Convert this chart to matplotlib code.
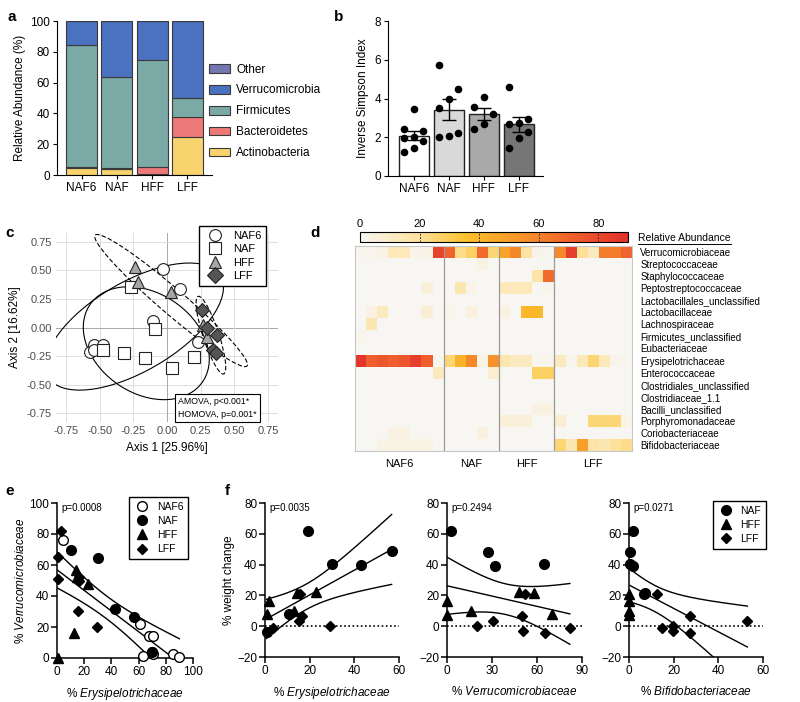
import numpy as np
import matplotlib
matplotlib.use("Agg")
import matplotlib.pyplot as plt
from matplotlib.patches import Ellipse, Patch
from matplotlib.lines import Line2D
from matplotlib.colors import LinearSegmentedColormap

plt.rcParams['font.family'] = ['Liberation Sans', 'DejaVu Sans']
plt.rcParams['mathtext.fontset'] = 'custom'
plt.rcParams['mathtext.it'] = 'Liberation Sans:italic'
plt.rcParams['mathtext.rm'] = 'Liberation Sans'

# ---------------- data ----------------
groups = ['NAF6', 'NAF', 'HFF', 'LFF']

# a: phylum relative abundance (%)
phyla = ['Actinobacteria', 'Bacteroidetes', 'Firmicutes', 'Verrucomicrobia', 'Other']
actino = [4.5, 4.0, 0.5, 24.5]
bacter = [1.0, 0.5, 4.5, 13.0]
firmic = [79.0, 59.0, 70.0, 12.5]
verruc = [15.3, 36.4, 24.9, 49.9]
other = [0.2, 0.1, 0.1, 0.1]
phyla_colors = ['#f9d36e', '#ec7878', '#7aa9a6', '#4a72bf', '#7476b0']

# b: inverse simpson index per animal
simpson_naf6 = [3.45, 2.45, 2.3, 2.0, 1.95, 1.8, 1.45, 1.25]
simpson_naf = [5.75, 4.5, 3.95, 3.5, 2.2, 2.05, 2.0]
simpson_hff = [4.1, 3.55, 3.2, 2.7, 2.45]
simpson_lff = [4.6, 2.95, 2.75, 2.7, 2.25, 1.95, 1.45]

# c: PCoA coordinates
pc_naf6_x = [-0.575, -0.54, -0.543, -0.474, -0.106, -0.027, 0.099, 0.232]
pc_naf6_y = [-0.217, -0.157, -0.197, -0.149, 0.057, 0.511, 0.34, -0.123]
pc_naf_x = [-0.264, -0.086, -0.474, -0.323, -0.165, 0.035, 0.2]
pc_naf_y = [0.351, -0.014, -0.2, -0.22, -0.269, -0.354, -0.254]
pc_hff_x = [-0.235, -0.215, 0.032, 0.27, 0.30]
pc_hff_y = [0.529, 0.40, 0.314, 0.02, -0.086]
pc_lff_x = [0.257, 0.294, 0.375, 0.343, 0.363]
pc_lff_y = [0.151, 0.0, -0.066, -0.2, -0.22]

# d: family heatmap (columns: 8 NAF6, 5 NAF, 5 HFF, 7 LFF)
families = ['Verrucomicrobiaceae', 'Streptococcaceae', 'Staphylococcaceae',
            'Peptostreptococcaceae', 'Lactobacillales_unclassified', 'Lactobacillaceae',
            'Lachnospiraceae', 'Firmicutes_unclassified', 'Eubacteriaceae',
            'Erysipelotrichaceae', 'Enterococcaceae', 'Clostridiales_unclassified',
            'Clostridiaceae_1.1', 'Bacilli_unclassified', 'Porphyromonadaceae',
            'Coriobacteriaceae', 'Bifidobacteriaceae']
group_sizes = [8, 5, 5, 7]
abundance = [
    [1, 1, 3, 14, 14, 2, 3, 82, 70, 22, 28, 68, 25, 48, 58, 18, 2, 1, 58, 85, 20, 12, 62, 62, 70],
    [0, 0, 0, 0, 0, 0, 0, 0, 0, 0, 0, 4, 0, 0, 0, 0, 0, 0, 0, 0, 0, 0, 0, 0, 0],
    [0, 0, 0, 0, 0, 0, 0, 0, 0, 0, 0, 0, 0, 0, 0, 0, 18, 68, 0, 0, 0, 0, 0, 0, 0],
    [0, 0, 0, 0, 0, 0, 6, 0, 0, 16, 2, 0, 0, 14, 14, 14, 0, 2, 0, 0, 0, 0, 0, 0, 0],
    [0, 0, 0, 0, 0, 0, 0, 0, 0, 0, 0, 0, 0, 0, 0, 0, 0, 0, 0, 0, 0, 0, 0, 0, 0],
    [0, 4, 12, 0, 0, 0, 7, 0, 2, 0, 5, 0, 0, 4, 0, 40, 40, 0, 0, 0, 0, 0, 0, 0, 0],
    [0, 15, 0, 0, 0, 0, 0, 0, 0, 0, 0, 0, 0, 0, 0, 0, 0, 0, 0, 0, 0, 0, 0, 0, 0],
    [2, 0, 0, 0, 0, 0, 0, 0, 0, 0, 0, 0, 0, 0, 0, 0, 0, 0, 0, 0, 0, 0, 0, 0, 0],
    [0, 0, 0, 0, 0, 0, 0, 0, 0, 0, 0, 0, 0, 0, 0, 0, 0, 0, 0, 0, 0, 0, 0, 0, 0],
    [88, 72, 75, 72, 75, 85, 72, 1, 26, 42, 58, 3, 55, 16, 12, 12, 1, 1, 12, 2, 14, 26, 14, 2, 1],
    [0, 0, 0, 0, 0, 0, 0, 12, 0, 0, 0, 0, 8, 0, 0, 0, 28, 28, 0, 0, 0, 0, 0, 0, 0],
    [0, 0, 0, 0, 0, 0, 0, 0, 0, 0, 0, 0, 0, 0, 0, 0, 0, 0, 0, 0, 0, 0, 0, 0, 0],
    [0, 0, 0, 0, 0, 0, 0, 0, 0, 0, 0, 0, 0, 0, 0, 0, 0, 0, 0, 0, 0, 0, 0, 0, 0],
    [0, 0, 0, 0, 0, 0, 0, 0, 0, 0, 0, 0, 0, 0, 0, 0, 4, 4, 0, 0, 0, 0, 0, 0, 0],
    [0, 0, 0, 0, 0, 0, 0, 0, 0, 0, 0, 0, 0, 6, 6, 6, 0, 0, 8, 0, 0, 25, 25, 25, 3],
    [0, 0, 0, 4, 4, 0, 0, 0, 0, 0, 0, 5, 0, 0, 0, 0, 0, 0, 0, 0, 0, 0, 0, 0, 0],
    [0, 0, 3, 3, 3, 3, 3, 0, 0, 0, 0, 0, 0, 0, 0, 0, 0, 0, 25, 15, 50, 18, 15, 20, 22],
]

# e: % Erysipelotrichaceae vs % Verrucomicrobiaceae
e_naf6_x = [4.2, 60.8, 68, 70.6, 63, 69.9, 70.6, 85, 90]
e_naf6_y = [76, 21.8, 14, 14, 1.5, 3.6, 2.6, 2.6, 0.4]
e_naf_x = [10.3, 29.9, 42.4, 56.4, 69.9]
e_naf_y = [69.4, 64.2, 31.5, 26.6, 4]
e_hff_x = [0.5, 12.7, 14, 22.5, 15]
e_hff_y = [0, 16, 57, 48, 52]
e_lff_x = [3.2, 0.5, 0.5, 16, 16.4, 15.4, 29.4]
e_lff_y = [82, 65, 51, 52.5, 50, 30.6, 20]

# f: % weight change vs family abundance
f1_naf_x = [0.7, 10.7, 19.4, 29.9, 43, 56.7]
f1_naf_y = [-4, 8, 61.8, 40.6, 39.6, 48.6]
f1_hff_x = [1.8, 0.7, 14.2, 13, 22.8]
f1_hff_y = [16.2, 7.6, 21.6, 10, 22.3]
f1_lff_x = [3.4, 15.7, 16.4, 15.2, 29]
f1_lff_y = [-1, 21.2, 6.7, 3.7, 0]

f2_naf_x = [2.7, 27, 32, 64.6]
f2_naf_y = [61.6, 48.5, 39.4, 40.3]
f2_hff_x = [0, 0, 15.9, 48, 58, 69.7]
f2_hff_y = [16.2, 7.5, 10.1, 22.2, 21.3, 7.8]
f2_lff_x = [19.9, 30.5, 49.8, 52, 50.4, 65.3, 81.9]
f2_lff_y = [0, 3.7, 6.7, 20.9, -3.2, -4.5, -1]

f3_naf_x = [1.8, 0.3, 0.3, 1.8, 6.5, 7.2]
f3_naf_y = [61.6, 48.5, 40.5, 39.4, 21.1, 21.3]
f3_hff_x = [0, 0, 0, 0]
f3_hff_y = [21, 16.2, 9.7, 7.5]
f3_lff_x = [12.5, 27.3, 53, 14.6, 19.5, 19.5, 27.3]
f3_lff_y = [20.9, 6.7, 3.4, -0.9, -3.2, 0, -4.5]

# ---------------- figure ----------------
W, H = 800, 702
fig = plt.figure(figsize=(8, 7.02), dpi=100)


def box(l, t, r, b):
    return fig.add_axes([l / W, 1 - b / H, (r - l) / W, (b - t) / H])


def letter(x, y, s):
    fig.text(x / W, 1 - y / H, s, fontsize=11, fontweight='bold', va='center', ha='left')


def prism(ax):
    for s in ['top', 'right']:
        ax.spines[s].set_visible(False)
    for s in ['left', 'bottom']:
        ax.spines[s].set_linewidth(1.1)
    ax.tick_params(width=1.1, length=4, labelsize=8.5, pad=1.5)


def t975(df):
    z = 1.959964
    return (z + (z**3 + z) / (4 * df) + (5 * z**5 + 16 * z**3 + 3 * z) / (96 * df**2)
            + (3 * z**7 + 19 * z**5 + 17 * z**3 - 15 * z) / (384 * df**3))


def reg_band(ax, x, y):
    x = np.asarray(x, float)
    y = np.asarray(y, float)
    n = len(x)
    b, a = np.polyfit(x, y, 1)
    res = y - (a + b * x)
    s = np.sqrt(np.sum(res**2) / (n - 2))
    xm = x.mean()
    sxx = np.sum((x - xm)**2)
    xs = np.linspace(x.min(), x.max(), 200)
    yh = a + b * xs
    se = s * np.sqrt(1 / n + (xs - xm)**2 / sxx)
    t = t975(n - 2)
    for yy in (yh, yh + t * se, yh - t * se):
        ax.plot(xs, yy, color='black', lw=1.0, zorder=2)


# ---- a ----
letter(8, 17, 'a')
ax = box(57, 21, 212, 175)
xa = np.arange(len(groups))
bottom = np.zeros(len(groups))
handles = []
for name, vals, col in zip(phyla, [actino, bacter, firmic, verruc, other], phyla_colors):
    ax.bar(xa, vals, 0.88, bottom=bottom, color=col, edgecolor='#3a3a3a', linewidth=0.8)
    bottom += np.array(vals)
    handles.append(Patch(facecolor=col, edgecolor='#3a3a3a', linewidth=0.8, label=name))
ax.set_xlim(-0.7, 3.7)
ax.set_ylim(0, 100)
ax.set_yticks(range(0, 101, 20))
ax.set_xticks(xa)
ax.set_xticklabels(groups)
for s in ['top', 'right']:
    ax.spines[s].set_visible(False)
ax.tick_params(labelsize=8.5, length=3, pad=2)
ax.set_ylabel('Relative Abundance (%)', fontsize=8.5, labelpad=3)
ax.legend(handles=handles[::-1], loc='upper left', bbox_to_anchor=(198 / W, 1 - 53 / H),
          bbox_transform=fig.transFigure, frameon=False, fontsize=8.5,
          handlelength=1.8, handleheight=0.75, labelspacing=0.75, handletextpad=0.55)

# ---- b ----
letter(334, 17, 'b')
ax = box(388, 21, 543, 176)
simpson = [simpson_naf6, simpson_naf, simpson_hff, simpson_lff]
means = [np.mean(v) for v in simpson]
sems = [np.std(v, ddof=1) / np.sqrt(len(v)) for v in simpson]
ax.bar(xa, means, 0.86, color=['white', '#d9d9d9', '#a9a9a9', '#767676'],
       edgecolor='#222222', linewidth=1.0, zorder=1)
ax.errorbar(xa, means, yerr=sems, fmt='none', ecolor='black', elinewidth=1.0,
            capsize=5, capthick=1.0, zorder=3)
cycle = [-0.27, 0.0, 0.27]
for i, vals in enumerate(simpson):
    order = np.argsort(vals)
    offs = np.zeros(len(vals))
    for k, idx in enumerate(order):
        offs[idx] = cycle[k % 3]
    ax.scatter(i + offs, vals, s=20, color='black', zorder=4, clip_on=False)
ax.set_xlim(-0.74, 3.69)
ax.set_ylim(0, 8)
ax.set_yticks(range(0, 9, 2))
ax.set_xticks(xa)
ax.set_xticklabels(groups)
for s in ['top', 'right']:
    ax.spines[s].set_visible(False)
ax.tick_params(labelsize=8.5, length=3, pad=2)
ax.set_ylabel('Inverse Simpson Index', fontsize=8.5, labelpad=4)

# ---- c ----
letter(5, 233, 'c')
ax = box(56, 233, 278, 422)
lim = 0.825
ax.set_xlim(-lim, lim)
ax.set_ylim(-lim, lim)
ticks = [-0.75, -0.5, -0.25, 0, 0.25, 0.5, 0.75]
ax.set_xticks(ticks)
ax.set_yticks(ticks)
ax.set_xticklabels(['%.2f' % t for t in ticks])
ax.set_yticklabels(['%.2f' % t for t in ticks])
for t in ticks:
    c = '#a8a8a8' if t == 0 else '#dedede'
    ax.axhline(t, color=c, lw=0.7, zorder=0)
    ax.axvline(t, color=c, lw=0.7, zorder=0)
for s in ax.spines.values():
    s.set_visible(False)
ax.tick_params(length=0, labelsize=8, colors='#4d4d4d', pad=3)
ax.set_xlabel('Axis 1 [25.96%]', fontsize=8.5, labelpad=4)
ax.set_ylabel('Axis 2 [16.62%]', fontsize=8.5, labelpad=4)

level = 0.8
pc_sets = [(pc_naf6_x, pc_naf6_y, 'o', 'white', '-'),
           (pc_naf_x, pc_naf_y, 's', 'white', '-'),
           (pc_hff_x, pc_hff_y, '^', '#a6a6a6', (0, (4, 2))),
           (pc_lff_x, pc_lff_y, 'D', '#555555', (0, (4, 2)))]
for gx, gy, m, fc, ls in pc_sets:
    gx = np.asarray(gx)
    gy = np.asarray(gy)
    n = len(gx)
    cov = np.cov(gx, gy)
    vals, vecs = np.linalg.eigh(cov)
    d = n - 1
    fq = d / 2 * ((1 - level) ** (-2 / d) - 1)
    r = np.sqrt(2 * fq)
    ang = np.degrees(np.arctan2(vecs[1, 1], vecs[0, 1]))
    ax.add_patch(Ellipse((gx.mean(), gy.mean()), 2 * r * np.sqrt(vals[1]), 2 * r * np.sqrt(vals[0]),
                         angle=ang, fill=False, edgecolor='black', lw=0.8, linestyle=ls, zorder=2))
for gx, gy, m, fc, ls in pc_sets:
    ms = 8.5 if m == 'o' else (7 if m == 'D' else 8)
    ax.plot(gx, gy, m, ms=ms, mfc=fc, mec='#222222', mew=0.8, ls='none', zorder=3)
ch = [Line2D([], [], marker=m, ms=8.5, mfc=fc, mec='#222222', mew=0.8, ls='none')
      for gx, gy, m, fc, ls in pc_sets]
leg = ax.legend(ch, groups, loc='upper right', bbox_to_anchor=(266 / W, 1 - 226 / H),
                bbox_transform=fig.transFigure, fontsize=8, frameon=True, fancybox=False,
                edgecolor='black', framealpha=1, borderpad=0.45, labelspacing=0.3,
                handletextpad=0.6, borderaxespad=0)
leg.get_frame().set_linewidth(1.0)
fig.text(178 / W, 1 - 408 / H, 'AMOVA, p<0.001*\nHOMOVA, p=0.001*', fontsize=6.3,
         va='center', ha='left', linespacing=1.5,
         bbox=dict(boxstyle='square,pad=0.35', fc='white', ec='black', lw=0.8))

# ---- d ----
letter(310, 233, 'd')
ax = box(355, 246, 632, 451)
cmap = LinearSegmentedColormap.from_list(
    'abund', ['#f8f6f2', '#fde4a6', '#fbc02a', '#f7952a', '#ef5e2c', '#e2302c'])
mat = np.array(abundance, float)
mesh = ax.pcolormesh(np.arange(mat.shape[1] + 1), np.arange(mat.shape[0] + 1), mat,
                     cmap=cmap, vmin=0, vmax=90)
ax.set_xlim(0, mat.shape[1])
ax.set_ylim(mat.shape[0], 0)
edges = np.cumsum(group_sizes)
for e in edges[:-1]:
    ax.axvline(e, color='#9a9a9a', lw=0.9)
for s in ax.spines.values():
    s.set_color('#c8c8c8')
    s.set_linewidth(0.8)
ax.yaxis.tick_right()
ax.set_yticks(np.arange(len(families)) + 0.5)
ax.set_yticklabels(families, fontsize=7)
starts = edges - np.array(group_sizes)
ax.set_xticks(starts + np.array(group_sizes) / 2)
ax.set_xticklabels(groups, fontsize=8)
ax.tick_params(length=0, pad=6)
ax.tick_params(axis='y', pad=6)

cax = box(360, 232, 628, 242)
cb = fig.colorbar(mesh, cax=cax, orientation='horizontal')
cb.outline.set_linewidth(0.8)
cax.xaxis.set_ticks_position('top')
cax.set_xticks([0, 20, 40, 60, 80])
cax.tick_params(length=0, labelsize=8, pad=2)
for v in [20, 40, 60, 80]:
    cax.axvline(v, color='#333333', lw=0.7, ls=(0, (2, 1.5)))
ra = fig.text(638 / W, 1 - 238 / H, 'Relative Abundance', fontsize=7.5, va='center', ha='left')
fig.canvas.draw()
bb = ra.get_window_extent(fig.canvas.get_renderer())
fig.add_artist(Line2D([bb.x0 / W, bb.x1 / W], [(bb.y0 - 1) / H, (bb.y0 - 1) / H],
                      color='black', lw=0.7, transform=fig.transFigure))

# ---- e ----
letter(5, 491, 'e')
ax = box(57, 503, 193, 658)
prism(ax)
ax.set_xlim(0, 100)
ax.set_ylim(0, 100)
ax.set_xticks(range(0, 101, 20))
ax.set_yticks(range(0, 101, 20))
e_sets = [(e_naf6_x, e_naf6_y, 'o', 'white', 7),
          (e_naf_x, e_naf_y, 'o', 'black', 7),
          (e_hff_x, e_hff_y, '^', 'black', 6.5),
          (e_lff_x, e_lff_y, 'D', 'black', 4.8)]
reg_band(ax, np.concatenate([s[0] for s in e_sets]), np.concatenate([s[1] for s in e_sets]))
for gx, gy, m, fc, ms in e_sets:
    ax.plot(gx, gy, m, ms=ms, mfc=fc, mec='black', mew=1.0, ls='none', zorder=3, clip_on=False)
ax.text(3, 97, 'p=0.0008', fontsize=7, va='center')
ax.set_xlabel('% $\\it{Erysipelotrichaceae}$', fontsize=8.5, labelpad=6)
ax.set_ylabel('% $\\it{Verrucomicrobiaceae}$', fontsize=8.5, labelpad=2)
eh = [Line2D([], [], marker=m, ms=ms, mfc=fc, mec='black', mew=1.0, ls='none')
      for gx, gy, m, fc, ms in e_sets]
leg = ax.legend(eh, groups, loc='upper right', bbox_to_anchor=(188 / W, 1 - 497 / H),
                bbox_transform=fig.transFigure, fontsize=7.5, frameon=True, fancybox=False,
                edgecolor='black', framealpha=1, borderpad=0.45, labelspacing=0.4,
                handletextpad=0.6, handlelength=1.6, borderaxespad=0)
leg.get_frame().set_linewidth(1.0)

# ---- f ----
letter(225, 491, 'f')
f_panels = [
    (265, 399, (0, 60), range(0, 61, 20), '% $\\it{Erysipelotrichaceae}$', 'p=0.0035',
     [(f1_naf_x, f1_naf_y), (f1_hff_x, f1_hff_y), (f1_lff_x, f1_lff_y)]),
    (447, 582, (0, 90), range(0, 91, 30), '% $\\it{Verrucomicrobiaceae}$', 'p=0.2494',
     [(f2_naf_x, f2_naf_y), (f2_hff_x, f2_hff_y), (f2_lff_x, f2_lff_y)]),
    (629, 763, (0, 60), range(0, 61, 20), '% $\\it{Bifidobacteriaceae}$', 'p=0.0271',
     [(f3_naf_x, f3_naf_y), (f3_hff_x, f3_hff_y), (f3_lff_x, f3_lff_y)]),
]
f_markers = [('o', 7), ('^', 6.5), ('D', 4.8)]
for k, (l, r, xl, xt, lab, ptxt, sets) in enumerate(f_panels):
    ax = box(l, 503, r, 657)
    prism(ax)
    ax.set_xlim(*xl)
    ax.set_ylim(-20, 80)
    ax.set_xticks(list(xt))
    ax.set_yticks(range(-20, 81, 20))
    ax.axhline(0, color='black', lw=1.2, ls=(0, (1, 1.5)), zorder=1)
    reg_band(ax, np.concatenate([s[0] for s in sets]), np.concatenate([s[1] for s in sets]))
    for (gx, gy), (m, ms) in zip(sets, f_markers):
        ax.plot(gx, gy, m, ms=ms, mfc='black', mec='black', ls='none', zorder=3, clip_on=False)
    ax.text(xl[1] * 0.03, 77, ptxt, fontsize=7, va='center')
    ax.set_xlabel(lab, fontsize=8.5, labelpad=6)
    if k == 0:
        ax.set_ylabel('% weight change', fontsize=8.5, labelpad=2)
    if k == 2:
        fh = [Line2D([], [], marker=m, ms=ms, mfc='black', mec='black', ls='none')
              for m, ms in f_markers]
        leg = ax.legend(fh, groups[1:], loc='upper right', bbox_to_anchor=(766 / W, 1 - 501 / H),
                        bbox_transform=fig.transFigure, fontsize=7.5, frameon=True,
                        fancybox=False, edgecolor='black', framealpha=1, borderpad=0.45,
                        labelspacing=0.4, handletextpad=0.6, handlelength=1.6, borderaxespad=0)
        leg.get_frame().set_linewidth(1.0)

fig.savefig('out.png', dpi=100)
